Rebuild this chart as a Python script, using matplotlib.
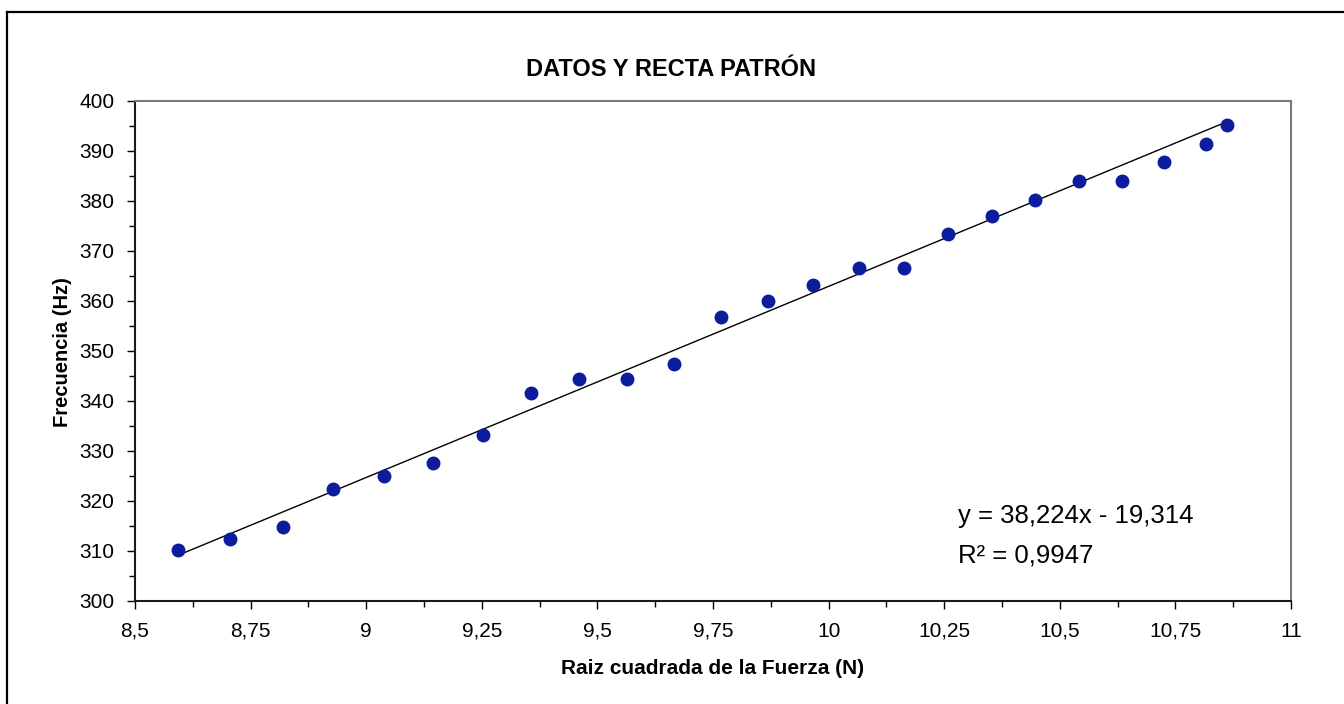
import matplotlib
matplotlib.use("Agg")
import matplotlib.pyplot as plt
from matplotlib.ticker import FixedLocator, MultipleLocator, FixedFormatter
from matplotlib.lines import Line2D
import numpy as np

plt.rcParams['font.family'] = ['Liberation Sans', 'DejaVu Sans']

# ---- data ----
raiz_fuerza = [8.592, 8.705, 8.819, 8.928, 9.038, 9.144, 9.252, 9.357,
               9.461, 9.564, 9.666, 9.767, 9.868, 9.966, 10.065, 10.162,
               10.258, 10.353, 10.447, 10.541, 10.634, 10.725, 10.817, 10.862]
frecuencia = [310.2, 312.5, 314.9, 322.5, 325.1, 327.7, 333.3, 341.6,
              344.5, 344.5, 347.5, 356.8, 360.0, 363.3, 366.6, 366.6,
              373.5, 377.0, 380.3, 384.1, 384.1, 387.9, 391.4, 395.3]
fit_slope = 38.224
fit_intercept = -19.314
x_ticks = [8.5, 8.75, 9.0, 9.25, 9.5, 9.75, 10.0, 10.25, 10.5, 10.75, 11.0]
x_tick_labels = ["8,5", "8,75", "9", "9,25", "9,5", "9,75", "10", "10,25", "10,5", "10,75", "11"]
y_ticks = [300, 310, 320, 330, 340, 350, 360, 370, 380, 390, 400]
y_tick_labels = [str(v) for v in y_ticks]
title = "DATOS Y RECTA PATRÓN"
xlabel = "Raiz cuadrada de la Fuerza (N)"
ylabel = "Frecuencia (Hz)"
eq_line1 = "y = 38,224x - 19,314"
eq_line2 = "R² = 0,9947"

W, H = 1344, 704
fig = plt.figure(figsize=(W / 100, H / 100), dpi=100)
fig.patch.set_facecolor('white')

# outer chart frame (left and top edges visible in the scan)
fig.add_artist(Line2D([7 / W, 7 / W], [0, 1 - 12 / H], transform=fig.transFigure,
                      color='black', lw=1.6))
fig.add_artist(Line2D([7 / W, 1], [1 - 12 / H, 1 - 12 / H], transform=fig.transFigure,
                      color='black', lw=1.6))

L, R, T, B = 135, 1291, 101, 601
ax = fig.add_axes([L / W, 1 - B / H, (R - L) / W, (B - T) / H])
ax.set_xlim(8.5, 11)
ax.set_ylim(300, 400)

xs = np.array(raiz_fuerza)
xfit = np.array([xs.min(), xs.max()])
ax.plot(xfit, fit_slope * xfit + fit_intercept, color='black', lw=1.0, zorder=2)
ax.plot(raiz_fuerza, frecuencia, linestyle='none', marker='o', markersize=9,
        color='#0c1c9c', markeredgecolor='#0c1c9c', zorder=3)

ax.xaxis.set_major_locator(FixedLocator(x_ticks))
ax.xaxis.set_major_formatter(FixedFormatter(x_tick_labels))
ax.xaxis.set_minor_locator(MultipleLocator(0.125))
ax.yaxis.set_major_locator(FixedLocator(y_ticks))
ax.yaxis.set_major_formatter(FixedFormatter(y_tick_labels))
ax.yaxis.set_minor_locator(MultipleLocator(5))

ax.tick_params(axis='both', which='major', direction='out', length=6, width=1,
               labelsize=15, color='black')
ax.tick_params(axis='both', which='minor', direction='out', length=4, width=1,
               color='black')
ax.tick_params(axis='x', which='major', pad=9)
ax.tick_params(axis='y', which='major', pad=9)

for s in ['left', 'bottom']:
    ax.spines[s].set_color('#1a1a1a')
    ax.spines[s].set_linewidth(1.5)
for s in ['top', 'right']:
    ax.spines[s].set_color('#7a7a7a')
    ax.spines[s].set_linewidth(1.5)

fig.text(671 / W, 1 - 70 / H, title, ha='center', va='center',
         fontsize=17, fontweight='bold')
fig.text(713 / W, 1 - 668 / H, xlabel, ha='center', va='center',
         fontsize=15, fontweight='bold')
fig.text(63 / W, 1 - 352 / H, ylabel, ha='center', va='center', rotation=90,
         fontsize=14.5, fontweight='bold')

fig.text(958 / W, 1 - 523 / H, eq_line1, ha='left', va='baseline', fontsize=18.5)
fig.text(958 / W, 1 - 562 / H, eq_line2, ha='left', va='baseline', fontsize=18.5)

fig.savefig('out.png', dpi=100, facecolor='white')
